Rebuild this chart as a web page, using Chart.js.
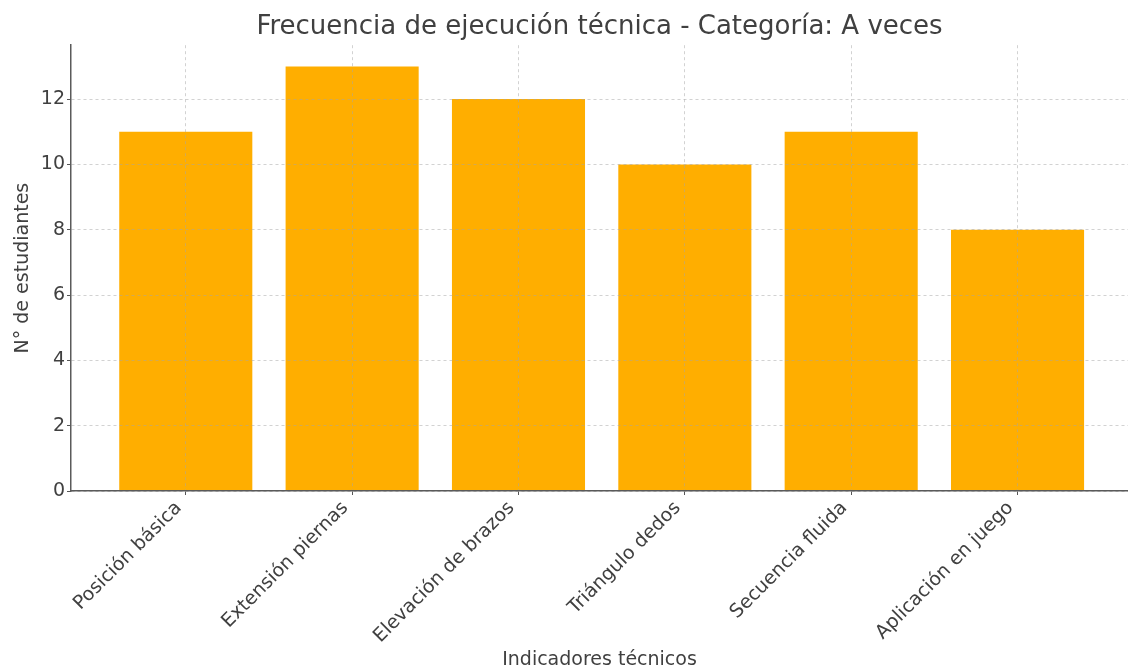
<!DOCTYPE html>
<html>
<head>
<meta charset="utf-8">
<script src="https://cdn.jsdelivr.net/npm/chart.js@4.4.0/dist/chart.umd.min.js"></script>
<style>
  html, body { margin: 0; padding: 0; background: #fff; }
  #wrap { width: 1128px; height: 672px; position: relative; }
</style>
</head>
<body>
<div id="wrap"><canvas id="frecuencia"></canvas></div>
<script>
const categorias = ['Posición básica', 'Extensión piernas', 'Elevación de brazos', 'Triángulo dedos', 'Secuencia fluida', 'Aplicación en juego'];
const estudiantes = [11, 13, 12, 10, 11, 8];
const yTicks = [0, 2, 4, 6, 8, 10, 12];

const textColor = '#404040';
const fontFamily = '"DejaVu Sans", Verdana, sans-serif';

const ctxFrecuencia = document.getElementById('frecuencia');

const dataFrecuencia = {
    datasets: [{
        label: 'A veces',
        backgroundColor: '#FFAE00',
        borderWidth: 0,
        barPercentage: 0.8,
        categoryPercentage: 1.0,
        data: estudiantes.map((v, i) => ({ x: i, y: v })),
    }]
};

const configFrecuencia = {
    type: 'bar',
    data: dataFrecuencia,
    options: {
        responsive: true,
        maintainAspectRatio: false,
        animation: false,
        layout: { padding: 0 },
        plugins: {
            legend: { display: false },
            tooltip: { enabled: false },
            title: {
                display: true,
                fullSize: false,
                text: 'Frecuencia de ejecución técnica - Categoría: A veces',
                color: textColor,
                font: { family: fontFamily, size: 26, weight: 'normal' },
                padding: { top: 12, bottom: 2 }
            }
        },
        scales: {
            x: {
                type: 'linear',
                offset: false,
                min: -0.69,
                max: 5.664,
                afterFit: (scale) => { scale.height = 181; },
                afterBuildTicks: (scale) => {
                    scale.ticks = categorias.map((c, i) => ({ value: i }));
                },
                ticks: {
                    stepSize: 1,
                    autoSkip: false,
                    includeBounds: false,
                    maxRotation: 45,
                    minRotation: 45,
                    padding: 2,
                    labelOffset: -7,
                    color: textColor,
                    font: { family: fontFamily, size: 19 },
                    callback: (value) => categorias[value] ?? ''
                },
                grid: {
                    offset: false,
                    z: 1,
                    color: 'rgba(165,165,165,0.5)',
                    tickColor: '#555',
                    tickLength: 4,
                    tickWidth: 1
                },
                border: {
                    display: true,
                    color: '#5a5a5a',
                    width: 1.5,
                    z: 2,
                    dash: [3, 3]
                },
                title: {
                    display: true,
                    text: 'Indicadores técnicos',
                    color: textColor,
                    font: { family: fontFamily, size: 19 },
                    padding: { top: 0, bottom: 1 }
                }
            },
            y: {
                min: 0,
                max: 13.65,
                afterFit: (scale) => { scale.width = 71; },
                afterBuildTicks: (scale) => {
                    scale.ticks = yTicks.map(v => ({ value: v }));
                },
                ticks: {
                    stepSize: 2,
                    includeBounds: false,
                    padding: 2,
                    color: textColor,
                    font: { family: fontFamily, size: 19 }
                },
                grid: {
                    z: 1,
                    color: 'rgba(165,165,165,0.5)',
                    tickColor: '#555',
                    tickLength: 4,
                    tickWidth: 1
                },
                border: {
                    display: true,
                    color: '#5a5a5a',
                    width: 1.5,
                    z: 2,
                    dash: [3, 3]
                },
                title: {
                    display: true,
                    text: 'N° de estudiantes',
                    color: textColor,
                    font: { family: fontFamily, size: 19 },
                    padding: { top: 12, bottom: 0 }
                }
            }
        }
    }
};

const barChartFrecuencia = new Chart(
    ctxFrecuencia,
    configFrecuencia
);
</script>
</body>
</html>
